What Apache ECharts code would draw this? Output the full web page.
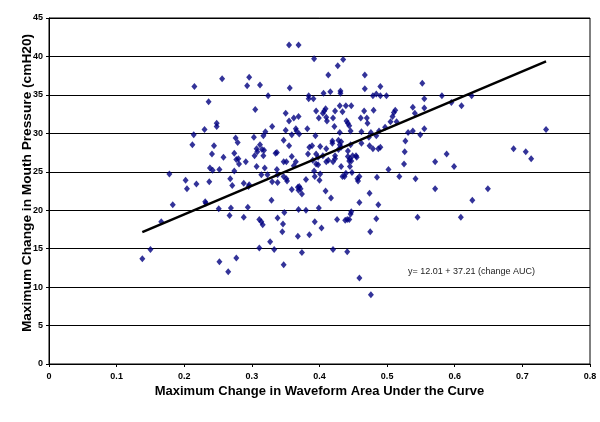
<!DOCTYPE html>
<html>
<head>
<meta charset="utf-8">
<script src="https://cdn.jsdelivr.net/npm/echarts@6/dist/echarts.min.js"></script>
<style>
html,body{margin:0;padding:0;background:#fff;}
#chart{width:600px;height:422px;}
</style>
</head>
<body>
<div id="chart"></div>
<script>
// [change in waveform AUC, change in mouth pressure (cmH2O)]
var scatterPoints = [
[0.215,36.1],[0.256,37.1],[0.296,37.3],[0.293,36.2],[0.312,36.3],[0.324,34.9],[0.236,34.1],[0.305,33.1],[0.248,31.3],[0.248,30.9],[0.230,30.5],[0.330,30.9],
[0.355,41.5],[0.369,41.5],[0.392,39.7],[0.435,39.6],[0.427,38.8],[0.413,37.6],[0.467,37.6],[0.356,35.9],[0.467,35.8],[0.490,36.1],[0.552,36.5],[0.416,35.4],[0.431,35.5],[0.431,35.2],[0.406,35.2],[0.384,34.9],[0.384,34.5],[0.391,34.5],[0.479,34.9],[0.484,35.1],[0.490,34.9],[0.499,34.9],[0.555,34.5],[0.430,33.6],[0.439,33.6],[0.447,33.6],[0.538,33.4],[0.555,33.3],[0.395,32.9],[0.409,33.2],[0.407,32.9],[0.405,32.6],[0.423,32.9],[0.434,32.8],[0.466,32.9],[0.480,33.0],[0.512,33.0],[0.510,32.7],[0.508,32.2],[0.541,32.6],[0.350,32.6],[0.362,32.0],[0.369,32.2],[0.355,31.6],[0.399,32.0],[0.410,32.1],[0.420,32.0],[0.411,31.6],[0.440,31.6],[0.442,31.3],[0.444,31.0],[0.461,32.0],[0.470,32.0],[0.471,31.3],[0.505,31.5],[0.514,31.5],[0.422,30.9],[0.365,30.6],[0.382,30.6],[0.555,30.6],[0.497,30.8],
[0.581,34.9],[0.595,34.0],[0.610,33.6],[0.625,34.9],[0.735,30.5],
[0.588,27.3],[0.571,26.3],[0.599,25.7],[0.687,28.0],[0.705,27.6],[0.713,26.7],[0.571,22.8],[0.649,22.8],[0.626,21.3],[0.609,19.1],
[0.320,30.2],[0.317,29.7],[0.214,29.8],[0.212,28.5],[0.276,29.4],[0.279,28.8],[0.303,29.5],[0.244,28.4],[0.312,28.5],[0.307,28.0],[0.308,27.6],[0.315,27.9],[0.318,27.8],[0.335,27.4],[0.337,27.5],[0.241,27.3],[0.274,27.4],[0.258,26.9],[0.277,26.6],[0.280,26.7],[0.304,27.1],[0.317,27.1],[0.281,26.0],[0.291,26.3],[0.307,25.7],[0.319,25.5],[0.238,25.5],[0.242,25.2],[0.252,25.3],[0.274,25.1],[0.178,24.7],[0.314,24.6],[0.323,24.6],[0.337,25.3],[0.338,24.6],[0.268,24.1],[0.202,23.9],[0.237,23.7],[0.288,23.5],[0.271,23.2],[0.218,23.4],[0.204,22.8],[0.295,23.1],[0.296,23.3],[0.330,23.7],[0.338,23.6],[0.329,21.3],[0.183,20.7],[0.231,21.1],[0.232,20.9],[0.251,20.2],[0.269,20.3],[0.294,20.4],[0.267,19.3],[0.288,19.1],[0.311,18.8],[0.338,19.0],
[0.166,18.5],[0.150,14.9],[0.138,13.7],[0.314,18.5],[0.316,18.1],[0.327,15.9],[0.311,15.1],[0.333,14.9],[0.252,13.3],[0.277,13.8],[0.265,12.0],
[0.346,18.2],[0.345,17.2],[0.393,18.5],[0.403,17.7],[0.426,18.8],[0.438,18.7],[0.441,18.8],[0.444,18.8],[0.484,18.9],[0.545,19.1],[0.368,16.6],[0.385,16.8],[0.475,17.2],[0.420,14.9],[0.441,14.6],[0.374,14.5],[0.347,12.9],[0.459,11.2],[0.476,9.0],
[0.350,30.4],[0.366,30.3],[0.430,30.1],[0.446,30.3],[0.462,30.2],[0.476,30.1],[0.488,30.3],[0.538,30.3],[0.549,29.8],[0.531,30.1],
[0.347,29.1],[0.359,29.8],[0.370,29.9],[0.394,29.7],[0.419,29.0],[0.428,29.1],[0.432,28.9],[0.430,28.5],[0.473,29.5],[0.484,29.7],[0.446,28.5],[0.462,28.7],[0.474,28.4],[0.355,28.4],
[0.385,28.2],[0.389,28.4],[0.401,28.3],[0.410,28.0],[0.419,28.7],[0.479,28.0],[0.487,28.0],[0.490,28.2],[0.526,27.6],[0.527,29.0],[0.442,27.7],[0.428,27.9],[0.432,28.2],[0.383,27.3],[0.395,27.3],[0.398,26.9],[0.359,27.0],[0.405,27.1],[0.423,27.1],[0.423,26.7],
[0.442,27.0],[0.445,26.7],[0.447,26.4],[0.444,26.4],[0.449,27.1],[0.454,27.1],[0.455,26.9],[0.347,26.3],[0.351,26.3],[0.365,26.3],[0.362,25.8],[0.390,26.5],[0.395,26.0],[0.398,25.9],[0.410,26.3],[0.413,26.5],[0.420,26.3],[0.432,25.7],[0.445,25.7],[0.525,26.0],[0.502,25.3],
[0.392,25.1],[0.393,24.4],[0.401,24.7],[0.434,24.4],[0.437,24.4],[0.439,24.8],[0.448,24.9],[0.456,24.1],[0.459,24.4],[0.457,23.8],[0.485,24.3],[0.518,24.4],[0.542,24.1],[0.347,24.4],[0.351,24.1],[0.352,23.8],[0.380,24.0],[0.400,23.9],
[0.368,23.0],[0.370,23.1],[0.372,22.8],[0.369,22.6],[0.374,22.1],[0.359,22.7],[0.409,22.5],[0.417,21.6],[0.474,22.2],[0.459,21.0],[0.487,20.7],[0.348,19.7],[0.369,20.1],[0.380,20.0],[0.399,20.3],[0.447,19.8],[0.446,19.5]
];
// fitted line endpoints
var fitLineX = [0.138, 0.735];
var fitLineY = [17.14, 39.36];
var equationText = 'y= 12.01 + 37.21 (change AUC)';
var xTitle = 'Maximum Change in Waveform Area Under the Curve';
var yTitle = 'Maximum Change in Mouth Pressure (cmH20)';

var fitLine = fitLineX.map(function(x,i){return [x, fitLineY[i]];});
var FONT = "'Liberation Sans', Arial, sans-serif";

var chart = echarts.init(document.getElementById('chart'), null, {renderer:'canvas'});
chart.setOption({
  animation:false,
  backgroundColor:'#ffffff',
  grid:{left:49,right:10,top:18,bottom:58,show:true,borderColor:'#000',borderWidth:1,backgroundColor:'transparent'},
  xAxis:{
    type:'value',min:0,max:0.8,interval:0.1,
    name:xTitle,nameLocation:'middle',nameGap:21,nameMoveOverlap:false,
    nameTextStyle:{fontFamily:FONT,fontWeight:'bold',fontSize:13,color:'#000'},
    axisLine:{show:true,lineStyle:{color:'#000',width:1}},
    axisTick:{show:true,length:3,lineStyle:{color:'#000'}},
    axisLabel:{fontFamily:FONT,fontWeight:'bold',fontSize:9,color:'#000',margin:8},
    splitLine:{show:false}
  },
  yAxis:{
    type:'value',min:0,max:45,interval:5,
    axisLine:{show:true,lineStyle:{color:'#000',width:1}},
    axisTick:{show:true,length:3,lineStyle:{color:'#000'}},
    axisLabel:{fontFamily:FONT,fontWeight:'bold',fontSize:9,color:'#000',margin:6},
    splitLine:{show:true,lineStyle:{color:'#000',width:1.2}}
  },
  graphic:[{
    type:'text',left:408,top:267,
    style:{text:equationText,fontFamily:FONT,fontSize:9,fill:'#222'}
  },{
    type:'text',x:27,y:183,rotation:Math.PI/2,
    style:{text:yTitle,fontFamily:FONT,fontWeight:'bold',fontSize:13.7,fill:'#000',align:'center',verticalAlign:'middle'}
  }],
  series:[
    {type:'scatter',data:scatterPoints,symbol:'diamond',symbolSize:[6,7],
     itemStyle:{color:'#00007f'},z:3},
    {type:'line',data:fitLine,symbol:'none',lineStyle:{color:'#000',width:2.5},z:4}
  ]
});
</script>
</body>
</html>
